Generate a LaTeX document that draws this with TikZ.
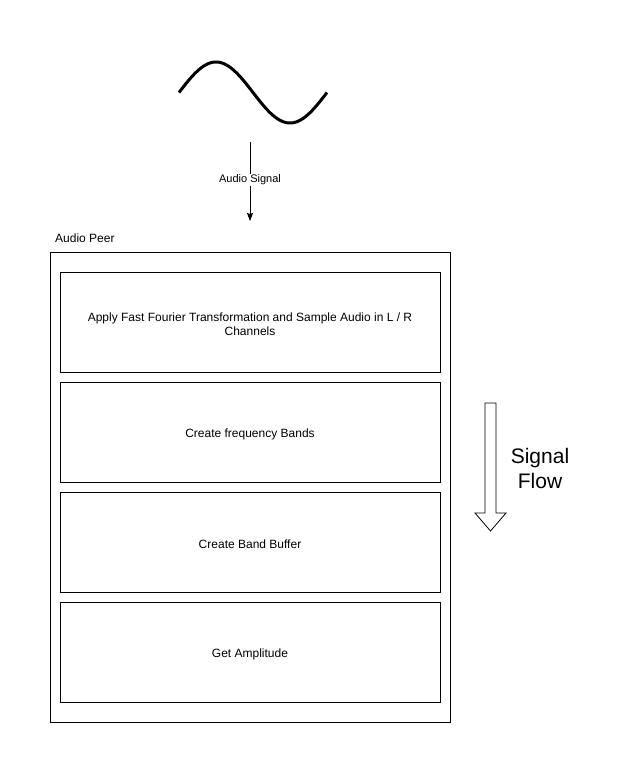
\documentclass[tikz,border=0pt]{standalone}
\usepackage{fontspec}
\setmainfont{Liberation Sans}
\usetikzlibrary{arrows.meta,shapes.arrows}
\begin{document}
\begin{tikzpicture}[x=1pt,y=-1pt,
  stepbox/.style={draw=black,line width=0.8pt,minimum width=380pt,minimum height=100pt,inner sep=0pt,align=center,font=\fontsize{12}{14.5}\selectfont},
  steptext/.style={align=center,font=\fontsize{12}{14.5}\selectfont,inner sep=0pt},
  outerbox/.style={draw=black,line width=0.8pt,minimum width=400pt,minimum height=470pt,inner sep=0pt},
  lbl/.style={font=\fontsize{12}{14}\selectfont,inner sep=0pt}]
\useasboundingbox (0,0) rectangle (626,774);
% sine wave
\draw[line width=3pt,domain=0:148,samples=120,variable=\t] plot ({179+\t},{92.5-30.5*sin(2.4324*\t)});
% audio signal arrow
\coordinate (aS) at (250,142);
\coordinate (aE) at (250,221);
\draw[-{Stealth[length=8pt,width=6pt,inset=1pt]},line width=0.8pt] (aS) -- (aE) node[pos=0.48,fill=white,inner sep=1pt,font=\fontsize{11}{13}\selectfont] (alabel) {Audio Signal};
% outer box
\node[outerbox] (peer) at (250,487) {};
\node[lbl,anchor=west] (peerlabel) at (55,238) {Audio Peer};
\node[stepbox] (s1) at (250,322) {};
\node[stepbox] (s2) at (250,432) {};
\node[stepbox] (s3) at (250,542) {};
\node[stepbox] (s4) at (250,652) {};
\node[steptext] (t1) at ([yshift=-2pt]s1.center) {Apply Fast Fourier Transformation and Sample Audio in L / R\\Channels};
\node[steptext] (t2) at ([yshift=-2pt]s2.center) {Create frequency Bands};
\node[steptext] (t3) at ([yshift=-2pt]s3.center) {Create Band Buffer};
\node[steptext] (t4) at ([yshift=-2pt]s4.center) {Get Amplitude};
% signal flow arrow
\draw[line width=0.8pt,fill=white,line join=miter] (485,403) -- (496,403) -- (496,513) -- (506,513) -- (490.5,531) -- (475,513) -- (485,513) -- cycle;
\node[align=center,font=\fontsize{21}{25}\selectfont,inner sep=0pt] (flow) at (540,468) {Signal\\Flow};
\end{tikzpicture}
\end{document}
